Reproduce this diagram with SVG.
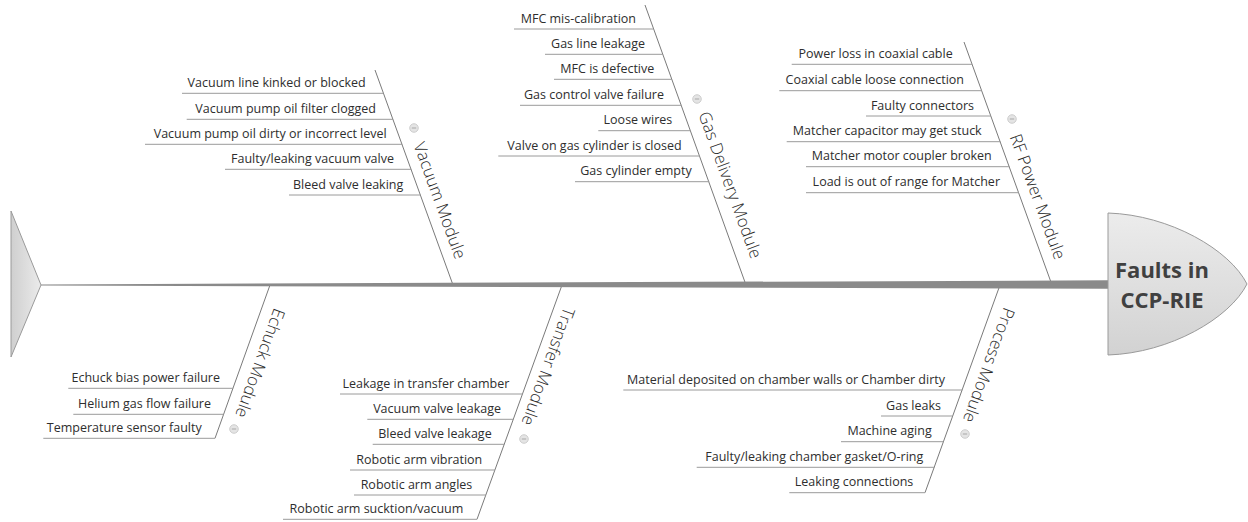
<svg xmlns="http://www.w3.org/2000/svg" width="1248" height="522" viewBox="0 0 1248 522">
<defs>
<linearGradient id="gHead" x1="0" y1="0" x2="0" y2="1">
<stop offset="0" stop-color="#ececec"/><stop offset="1" stop-color="#d2d2d2"/>
</linearGradient>
<linearGradient id="gTail" x1="0" y1="0" x2="1" y2="0">
<stop offset="0" stop-color="#cfcfcf"/><stop offset="1" stop-color="#ebebeb"/>
</linearGradient>
<g id="tog"><circle r="4.3" fill="#e4e4e4" stroke="#c4c4c4" stroke-width="0.8"/><line x1="-2.2" y1="0" x2="2.2" y2="0" stroke="#a8a8a8" stroke-width="1"/></g>
</defs>
<style>
.t{font-family:"Open Sans","Noto Sans","Liberation Sans",sans-serif;font-size:12.5px;fill:#2e2e2e;text-anchor:end}
.cat{font-family:"Open Sans","Noto Sans","Liberation Sans",sans-serif;font-weight:300;font-size:16.8px;fill:#2a2a2a;text-anchor:middle}
.sub{stroke:#9a9a9a;stroke-width:1;fill:none}
.bone{stroke:#7a7a7a;stroke-width:1;fill:none}
.head{font-family:"Open Sans","Noto Sans","Liberation Sans",sans-serif;font-weight:700;font-size:22px;fill:#404040;text-anchor:middle}
</style>
<rect width="1248" height="522" fill="#fff"/>

<g id="connectors">
<line class="bone" x1="375" y1="70" x2="453" y2="285"/>
<line class="bone" x1="645" y1="5" x2="746" y2="285"/>
<line class="bone" x1="964" y1="42" x2="1052" y2="285"/>
<line class="bone" x1="270" y1="285" x2="215" y2="438.3"/>
<line class="bone" x1="562" y1="285" x2="477" y2="519.3"/>
<line class="bone" x1="1000" y1="285" x2="925" y2="492.7"/>
<polygon id="spine" points="41,284.4 1108,280.3 1108,288.7 41,285.6" fill="#8a8a8a"/>
</g>

<g id="tail"><polygon points="11,211 41,285 11,357" fill="url(#gTail)" stroke="#9a9a9a" stroke-width="1"/></g>

<g id="head">
<path d="M1108,213 C1170,215 1230,250 1247,284 C1230,318 1170,353 1108,355 Z" fill="url(#gHead)" stroke="#9a9a9a" stroke-width="1"/>
<text class="head" x="1162" y="278">Faults in</text>
<text class="head" x="1162" y="308">CCP-RIE</text>
</g>

<g id="vacuum">
<path class="sub" d="M182,93.3H383.5M186.7,119.3H393.1M145,144.3H402.2M225,169.3H411.4M289,195H420.8"/>
<text class="t" x="365.7" y="86.8">Vacuum line kinked or blocked</text>
<text class="t" x="376" y="112.8">Vacuum pump oil filter clogged</text>
<text class="t" x="386.7" y="137.8">Vacuum pump oil dirty or incorrect level</text>
<text class="t" x="394" y="162.8">Faulty/leaking vacuum valve</text>
<text class="t" x="403.3" y="188.5">Bleed valve leaking</text>
<use href="#tog" x="414" y="128"/>
<text class="cat" transform="translate(434.4,202.4) rotate(69.9)">Vacuum Module</text>
</g>

<g id="gas">
<path class="sub" d="M514,29H653.7M545,54.3H662.9M554,79.3H672M520,105.3H681.4M598.3,130.7H690.7M498.3,156H699.9M575,181.7H709.2"/>
<text class="t" x="636" y="22.5">MFC mis-calibration</text>
<text class="t" x="645" y="47.8">Gas line leakage</text>
<text class="t" x="654.3" y="72.8">MFC is defective</text>
<text class="t" x="664" y="98.8">Gas control valve failure</text>
<text class="t" x="672.3" y="124.2">Loose wires</text>
<text class="t" x="681.7" y="149.5">Valve on gas cylinder is closed</text>
<text class="t" x="691.7" y="175.2">Gas cylinder empty</text>
<use href="#tog" x="697" y="99"/>
<text class="cat" transform="translate(724.7,187) rotate(70)">Gas Delivery Module</text>
</g>

<g id="rf">
<path class="sub" d="M791.7,64.3H972.1M779.3,90.7H981.8M866,116H991M786.7,141.7H1000.4M806,166.7H1009.5M806,192.7H1019"/>
<text class="t" x="952.7" y="57.8">Power loss in coaxial cable</text>
<text class="t" x="964" y="84.2">Coaxial cable loose connection</text>
<text class="t" x="974" y="109.5">Faulty connectors</text>
<text class="t" x="981.7" y="135.2">Matcher capacitor may get stuck</text>
<text class="t" x="991.7" y="160.2">Matcher motor coupler broken</text>
<text class="t" x="1000" y="186.2">Load is out of range for Matcher</text>
<use href="#tog" x="1012" y="119"/>
<text class="cat" transform="translate(1032.2,198.6) rotate(69.9)">RF Power Module</text>
</g>

<g id="echuck">
<path class="sub" d="M68.3,388.3H233.1M73.3,414.3H223.7M43.3,438.3H215"/>
<text class="t" x="220" y="381.8">Echuck bias power failure</text>
<text class="t" x="211" y="407.8">Helium gas flow failure</text>
<text class="t" x="201.7" y="431.8">Temperature sensor faulty</text>
<use href="#tog" x="234" y="429"/>
<text class="cat" transform="translate(254.7,361.2) rotate(110)">Echuck Module</text>
</g>

<g id="transfer">
<path class="sub" d="M340,394H522.7M367.3,419.3H513.4M372.7,444.3H504.3M350,470H495M354,495H485.9M283,519.3H477"/>
<text class="t" x="509.3" y="387.5">Leakage in transfer chamber</text>
<text class="t" x="501" y="412.8">Vacuum valve leakage</text>
<text class="t" x="491.7" y="437.8">Bleed valve leakage</text>
<text class="t" x="482.3" y="463.5">Robotic arm vibration</text>
<text class="t" x="472.3" y="488.5">Robotic arm angles</text>
<text class="t" x="463.3" y="512.8">Robotic arm sucktion/vacuum</text>
<use href="#tog" x="524" y="439"/>
<text class="cat" transform="translate(542.7,364.6) rotate(110)">Transfer Module</text>
</g>

<g id="process">
<path class="sub" d="M623.3,390H962.3M881,416H952.8M841,441.7H943.5M696.7,467.3H934.3M789.3,492.7H925"/>
<text class="t" x="945" y="383.5">Material deposited on chamber walls or Chamber dirty</text>
<text class="t" x="941" y="409.5">Gas leaks</text>
<text class="t" x="931.7" y="435.2">Machine aging</text>
<text class="t" x="923.3" y="460.8">Faulty/leaking chamber gasket/O-ring</text>
<text class="t" x="913.3" y="486.2">Leaking connections</text>
<use href="#tog" x="965" y="434"/>
<text class="cat" transform="translate(983.4,363.2) rotate(110)">Process Module</text>
</g>
</svg>
